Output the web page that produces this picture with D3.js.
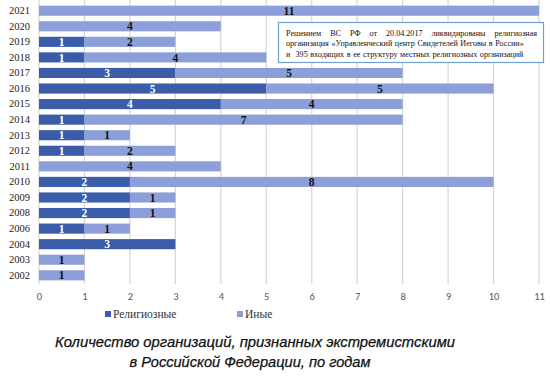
<!DOCTYPE html>
<html><head><meta charset="utf-8">
<script src="https://cdn.jsdelivr.net/npm/d3@7"></script>
<style>body{margin:0;background:#fff}</style>
</head><body>
<svg id="c" width="550" height="376"></svg>
<script>
const years = ["2021","2020","2019","2018","2017","2016","2015","2014","2013","2012","2011","2010","2009","2008","2006","2004","2003","2002"];
const religious = [0,0,1,1,3,5,4,1,1,1,0,2,2,2,1,3,0,0];
const other = [11,4,2,4,5,5,4,7,1,2,4,8,1,1,1,0,1,1];
const xTicks = [0,1,2,3,4,5,6,7,8,9,10,11];
const seriesNames = ["Религиозные","Иные"];
const colors = ["#3b5ca9","#8d9fd8"];
const titleLines = ["Количество организаций, признанных экстремистскими","в Российской Федерации, по годам"];
const noteLines = ["Решением ВС РФ от 20.04.2017 ликвидированы религиозная","организация «Управленческий центр Свидетелей Иеговы в России»","и  395 входящих в ее структуру местных религиозных организаций"];

const SERIF = "'Liberation Serif', 'Times New Roman', 'DejaVu Serif', serif";
const svg = d3.select("#c");
const x = d3.scaleLinear().domain([0,11]).range([39,539]);
const y = d3.scaleBand().domain(years).range([3,283]).paddingInner(0.35).paddingOuter(0.17);

// gridlines
svg.append("g").selectAll("line").data(xTicks).join("line")
  .attr("x1",d=>x(d)).attr("x2",d=>x(d)).attr("y1",0).attr("y2",284)
  .attr("stroke","#d6d6d6").attr("stroke-width",1.2);

// x axis labels
const xa = svg.append("g").attr("transform","translate(0,291)")
  .call(d3.axisBottom(x).tickValues(xTicks).tickSize(0).tickPadding(2));
xa.select(".domain").remove();
xa.selectAll("text").attr("font-family","Carlito, 'Liberation Sans', sans-serif").attr("font-size",10.5).attr("fill","#595959");

// y axis labels
const ya = svg.append("g").attr("transform","translate(30,0)")
  .call(d3.axisLeft(y).tickSize(0).tickPadding(0));
ya.select(".domain").remove();
ya.selectAll("text").attr("font-family",SERIF).attr("font-size",10.5).attr("fill","#222");

const data = years.map((yr,i)=>({yr, r:religious[i], o:other[i]}));
const stack = d3.stack().keys(["r","o"])(data);
const g = svg.append("g");
stack.forEach((s,si)=>{
  g.selectAll(null).data(s).join("rect")
    .attr("x",d=>x(d[0])).attr("y",d=>y(d.data.yr))
    .attr("width",d=>x(d[1])-x(d[0])).attr("height",y.bandwidth())
    .attr("fill",colors[si]);
  g.selectAll(null).data(s.filter(d=>d[1]-d[0]>0)).join("text")
    .attr("x",d=>(x(d[0])+x(d[1]))/2).attr("y",d=>y(d.data.yr)+y.bandwidth()/2)
    .attr("dy","0.36em").attr("text-anchor","middle")
    .attr("font-family",SERIF).attr("font-weight","bold").attr("font-size",11.5)
    .attr("fill",si===0?"#fff":"#111")
    .text(d=>d[1]-d[0]);
});

// annotation box
svg.append("rect").attr("x",278.5).attr("y",22.5).attr("width",265).attr("height",40)
  .attr("fill","#fff").attr("stroke","#6f9fd3").attr("stroke-width",1.2);
const noteG = svg.append("g").attr("font-family",SERIF).attr("font-size",8.1).attr("fill","#111");
noteLines.forEach((line,li)=>{
  const words = line.split(" ");
  const yy = 36 + li*10.3;
  const left = 286, right = 537;
  const justify = li === 0;
  const tmp = words.map(w=>noteG.append("text").attr("y",yy).text(w));
  const widths = tmp.map(t=>t.node().getComputedTextLength());
  const total = d3.sum(widths);
  const sp = justify ? (right-left-total)/(words.length-1) : 2.6;
  let cx = left;
  tmp.forEach((t,i)=>{ t.attr("x",cx); cx += widths[i] + sp; });
});

// legend
const leg = svg.append("g").attr("font-family",SERIF).attr("font-size",11.5).attr("fill","#333");
const legX = [105,237];
seriesNames.forEach((n,i)=>{
  leg.append("rect").attr("x",legX[i]).attr("y",311).attr("width",6).attr("height",6).attr("fill",colors[i]);
  leg.append("text").attr("x",legX[i]+8).attr("y",317.5).text(n);
});

// title
const tX = [255,250], tW = [400,241];
svg.append("g").selectAll("text").data(titleLines).join("text")
  .attr("x",(d,i)=>tX[i]).attr("y",(d,i)=>347+i*20).attr("text-anchor","middle")
  .attr("textLength",(d,i)=>tW[i]).attr("lengthAdjust","spacingAndGlyphs")
  .attr("font-family","'Liberation Sans', Arial, sans-serif").attr("font-style","italic")
  .attr("font-size",14).attr("fill","#111").attr("stroke","#111").attr("stroke-width",0.25).text(d=>d);
</script>
</body></html>
